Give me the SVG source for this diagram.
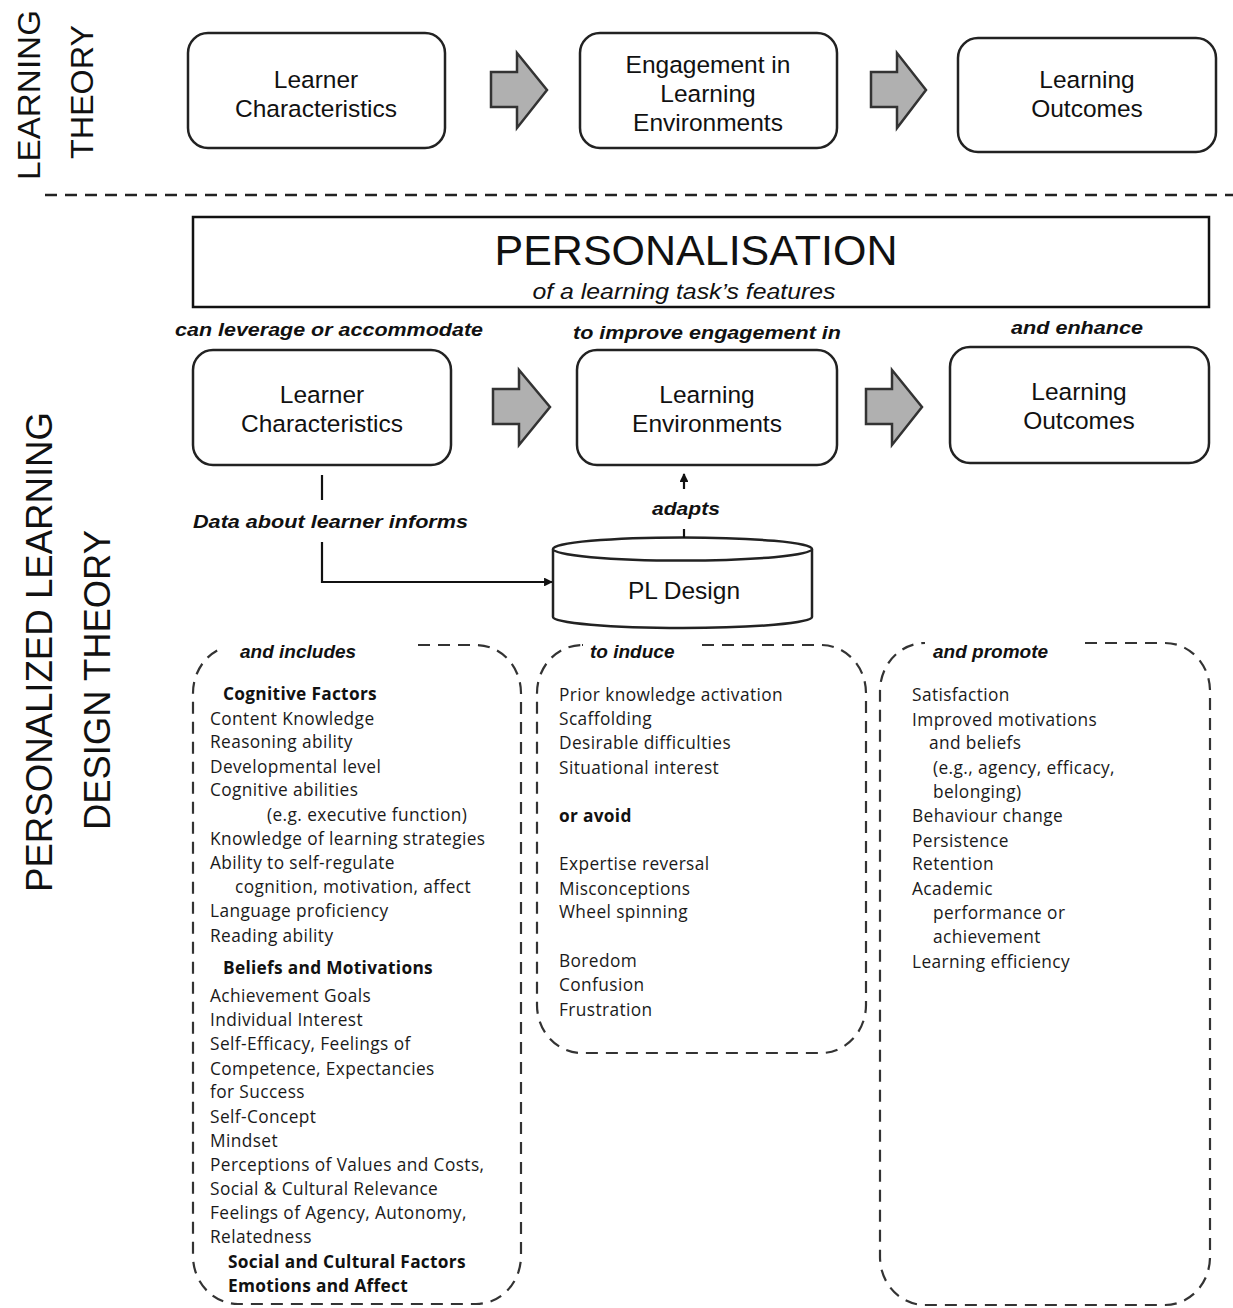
<svg xmlns="http://www.w3.org/2000/svg" width="1233" height="1308" viewBox="0 0 1233 1308">
<defs>
<style>
.side{font-family:"Liberation Sans",Arial,sans-serif;font-size:31px;fill:#111;text-anchor:middle}
.side2{font-family:"Liberation Sans",Arial,sans-serif;font-size:36px;fill:#111;text-anchor:middle}
.box{fill:#fff;stroke:#222;stroke-width:2.5}
.bt{font-family:"Liberation Sans",Arial,sans-serif;font-size:24.5px;fill:#111;text-anchor:middle}
.arr{fill:#b0b0b0;stroke:#333;stroke-width:2.5;stroke-linejoin:miter}
.lbl{font-family:"Liberation Sans",Arial,sans-serif;font-size:19px;font-weight:bold;font-style:italic;fill:#111}
.dash{fill:none;stroke:#333;stroke-width:2.2;stroke-dasharray:12 8}
.ct{font-family:"Open Sans","Noto Sans",sans-serif;font-size:17.3px;letter-spacing:0.4px;fill:#1a1a1a}
.cb{font-family:"Open Sans","Noto Sans",sans-serif;font-size:17.3px;letter-spacing:0.3px;font-weight:bold;fill:#111}
.line{fill:none;stroke:#111;stroke-width:2.2}
</style>
<marker id="ah" viewBox="0 0 10 10" refX="9" refY="5" markerWidth="4" markerHeight="4" orient="auto">
<path d="M0,0 L10,5 L0,10 z" fill="#111"/>
</marker>
</defs>
<rect width="1233" height="1308" fill="#fff"/>

<g id="side-labels">
<text class="side" transform="translate(40,95) rotate(-90)" textLength="170" lengthAdjust="spacingAndGlyphs">LEARNING</text>
<text class="side" transform="translate(93,92) rotate(-90)" textLength="134" lengthAdjust="spacingAndGlyphs">THEORY</text>
<text class="side2" transform="translate(52,652) rotate(-90)" textLength="480" lengthAdjust="spacingAndGlyphs">PERSONALIZED LEARNING</text>
<text class="side2" transform="translate(110,680) rotate(-90)" textLength="300" lengthAdjust="spacingAndGlyphs">DESIGN THEORY</text>
</g>

<line x1="45" y1="195" x2="1233" y2="195" stroke="#222" stroke-width="2.5" stroke-dasharray="12 8"/>

<g id="lt-learner">
<rect class="box" x="188" y="33" width="257" height="115" rx="20"/>
<text class="bt" x="316" y="88">Learner</text>
<text class="bt" x="316" y="117">Characteristics</text>
</g>
<g id="lt-engagement">
<rect class="box" x="580" y="33" width="257" height="115" rx="20"/>
<text class="bt" x="708" y="73">Engagement in</text>
<text class="bt" x="708" y="102">Learning</text>
<text class="bt" x="708" y="131">Environments</text>
</g>
<g id="lt-outcomes">
<rect class="box" x="958" y="38" width="258" height="114" rx="20"/>
<text class="bt" x="1087" y="88">Learning</text>
<text class="bt" x="1087" y="117">Outcomes</text>
</g>

<g id="personalisation">
<rect x="193" y="217" width="1016" height="90" fill="#fff" stroke="#111" stroke-width="2.5"/>
<text x="696" y="265" font-family="Liberation Sans,Arial,sans-serif" font-size="42" text-anchor="middle" fill="#111" textLength="403" lengthAdjust="spacingAndGlyphs">PERSONALISATION</text>
<text x="684" y="299" font-family="Liberation Sans,Arial,sans-serif" font-size="22" font-style="italic" text-anchor="middle" fill="#111" textLength="303" lengthAdjust="spacingAndGlyphs">of a learning task’s features</text>
</g>

<g id="phrase-labels">
<text class="lbl" x="175" y="336" textLength="308" lengthAdjust="spacingAndGlyphs">can leverage or accommodate</text>
<text class="lbl" x="573" y="339" textLength="268" lengthAdjust="spacingAndGlyphs">to improve engagement in</text>
<text class="lbl" x="1011" y="334" textLength="132" lengthAdjust="spacingAndGlyphs">and enhance</text>
</g>

<g id="pl-learner">
<rect class="box" x="193" y="350" width="258" height="115" rx="20"/>
<text class="bt" x="322" y="403">Learner</text>
<text class="bt" x="322" y="432">Characteristics</text>
</g>
<g id="pl-environments">
<rect class="box" x="577" y="350" width="260" height="115" rx="20"/>
<text class="bt" x="707" y="403">Learning</text>
<text class="bt" x="707" y="432">Environments</text>
</g>
<g id="pl-outcomes">
<rect class="box" x="950" y="347" width="259" height="116" rx="20"/>
<text class="bt" x="1079" y="400">Learning</text>
<text class="bt" x="1079" y="429">Outcomes</text>
</g>

<g id="pl-design">
<path d="M553,549 L553,617 A129.5,11 0 0 0 812,617 L812,549" fill="#fff" stroke="#222" stroke-width="2.5"/>
<ellipse cx="682.5" cy="549" rx="129.5" ry="11.5" fill="#fff" stroke="#222" stroke-width="2.5"/>
<text class="bt" x="684" y="599">PL Design</text>
</g>

<g id="connectors">
<path class="arr" d="M491,72 L517,72 L517,53 L547,90 L517,128 L517,107 L491,107 Z"/>
<path class="arr" d="M871,72 L897,72 L897,53 L926,90 L897,128 L897,107 L871,107 Z"/>
<path class="arr" d="M493,389 L519,389 L519,370 L550,407 L519,445 L519,424 L493,424 Z"/>
<path class="arr" d="M866,389 L892,389 L892,370 L922,407 L892,445 L892,424 L866,424 Z"/>
<line class="line" x1="322" y1="475" x2="322" y2="500"/>
<path class="line" d="M322,542 L322,582 L552,582" marker-end="url(#ah)"/>
<line class="line" x1="684" y1="529" x2="684" y2="538"/>
<line class="line" x1="684" y1="489" x2="684" y2="474" marker-end="url(#ah)"/>
<text class="lbl" x="193" y="528" textLength="275" lengthAdjust="spacingAndGlyphs">Data about learner informs</text>
<text class="lbl" x="652" y="515" textLength="68" lengthAdjust="spacingAndGlyphs">adapts</text>
</g>

<g id="includes">
<rect class="dash" x="193" y="645" width="328" height="659" rx="45" ry="48"/>
<rect x="222" y="636" width="190" height="20" fill="#fff"/>
<text class="lbl" x="240" y="658">and includes</text>
<text class="cb" x="223" y="700">Cognitive Factors</text>
<text class="ct" x="210" y="725">Content Knowledge</text>
<text class="ct" x="210" y="748">Reasoning ability</text>
<text class="ct" x="210" y="773">Developmental level</text>
<text class="ct" x="210" y="796">Cognitive abilities</text>
<text class="ct" x="267" y="821">(e.g. executive function)</text>
<text class="ct" x="210" y="845">Knowledge of learning strategies</text>
<text class="ct" x="210" y="869">Ability to self-regulate</text>
<text class="ct" x="235" y="893">cognition, motivation, affect</text>
<text class="ct" x="210" y="917">Language proficiency</text>
<text class="ct" x="210" y="942">Reading ability</text>
<text class="cb" x="223" y="974">Beliefs and Motivations</text>
<text class="ct" x="210" y="1002">Achievement Goals</text>
<text class="ct" x="210" y="1026">Individual Interest</text>
<text class="ct" x="210" y="1050">Self-Efficacy, Feelings of</text>
<text class="ct" x="210" y="1075">Competence, Expectancies</text>
<text class="ct" x="210" y="1098">for Success</text>
<text class="ct" x="210" y="1123">Self-Concept</text>
<text class="ct" x="210" y="1147">Mindset</text>
<text class="ct" x="210" y="1171">Perceptions of Values and Costs,</text>
<text class="ct" x="210" y="1195">Social &amp; Cultural Relevance</text>
<text class="ct" x="210" y="1219">Feelings of Agency, Autonomy,</text>
<text class="ct" x="210" y="1243">Relatedness</text>
<text class="cb" x="228" y="1268">Social and Cultural Factors</text>
<text class="cb" x="228" y="1292">Emotions and Affect</text>
</g>

<g id="induce">
<rect class="dash" x="537" y="645" width="329" height="408" rx="45" ry="48"/>
<rect x="583" y="636" width="114" height="20" fill="#fff"/>
<text class="lbl" x="590" y="658">to induce</text>
<text class="ct" x="559" y="701">Prior knowledge activation</text>
<text class="ct" x="559" y="725">Scaffolding</text>
<text class="ct" x="559" y="749">Desirable difficulties</text>
<text class="ct" x="559" y="774">Situational interest</text>
<text class="cb" x="559" y="822">or avoid</text>
<text class="ct" x="559" y="870">Expertise reversal</text>
<text class="ct" x="559" y="895">Misconceptions</text>
<text class="ct" x="559" y="918">Wheel spinning</text>
<text class="ct" x="559" y="967">Boredom</text>
<text class="ct" x="559" y="991">Confusion</text>
<text class="ct" x="559" y="1016">Frustration</text>
</g>

<g id="promote">
<rect class="dash" x="880" y="643" width="330" height="662" rx="45" ry="48"/>
<rect x="925" y="634" width="158" height="20" fill="#fff"/>
<text class="lbl" x="933" y="658">and promote</text>
<text class="ct" x="912" y="701">Satisfaction</text>
<text class="ct" x="912" y="726">Improved motivations</text>
<text class="ct" x="929" y="749">and beliefs</text>
<text class="ct" x="933" y="774">(e.g., agency, efficacy,</text>
<text class="ct" x="933" y="798">belonging)</text>
<text class="ct" x="912" y="822">Behaviour change</text>
<text class="ct" x="912" y="847">Persistence</text>
<text class="ct" x="912" y="870">Retention</text>
<text class="ct" x="912" y="895">Academic</text>
<text class="ct" x="933" y="919">performance or</text>
<text class="ct" x="933" y="943">achievement</text>
<text class="ct" x="912" y="968">Learning efficiency</text>
</g>
</svg>
